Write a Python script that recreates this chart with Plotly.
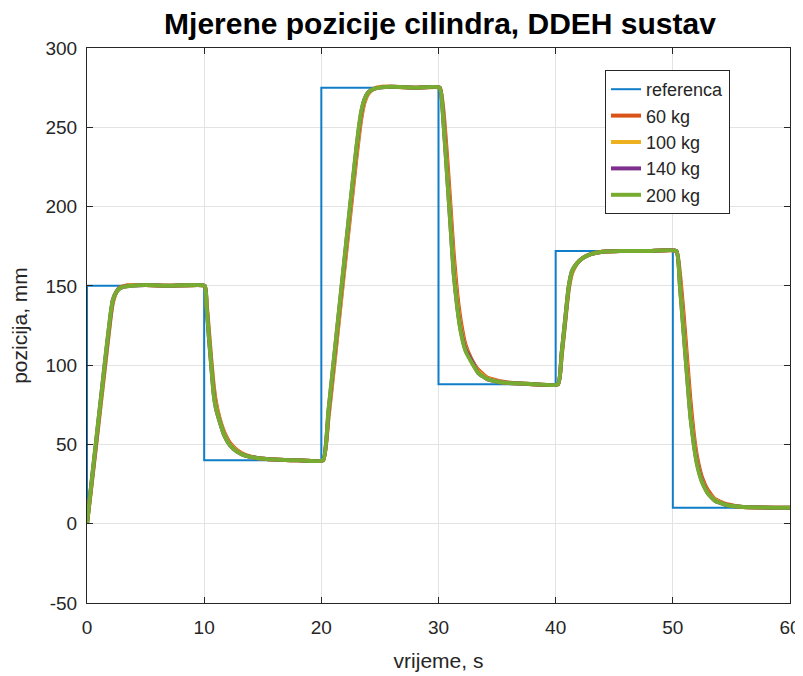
import plotly.graph_objects as go

# Reference (setpoint) steps
ref_t = [0, 0, 10, 10, 20, 20, 30, 30, 40, 40, 50, 50, 60]
ref_v = [0, 150, 150, 40, 40, 275, 275, 88, 88, 172, 172, 10, 10]

# Common time samples for measured positions (s)
t = [0, 0.4, 0.8, 1.2, 1.6, 2.0, 2.2, 2.5, 2.8, 3.2, 3.8, 5, 7, 10.05,
     10.2, 10.4, 10.6, 10.8, 11.0, 11.3, 11.7, 12.2, 12.8, 13.5, 14.5, 16, 18, 20.15,
     20.6, 21.2, 21.8, 22.4, 23.0, 23.4, 23.7, 24.0, 24.4, 25, 26, 28, 30.1,
     30.4, 30.7, 31.0, 31.3, 31.6, 31.9, 32.3, 32.8, 33.4, 34.2, 35.5, 37, 40.2,
     40.5, 40.8, 41.1, 41.4, 41.8, 42.3, 43, 44, 45.5, 48, 50.3,
     50.6, 50.9, 51.2, 51.5, 51.8, 52.1, 52.5, 53, 53.6, 54.5, 56, 60]

kg60 = [0, 25, 51, 77, 103, 129, 139, 146, 149, 150, 150.5, 150.5, 150, 150,
        140, 122, 104, 88, 77, 67, 58, 51, 46.5, 43.5, 41.5, 40.5, 40, 40,
        66, 107, 149, 190, 231, 255, 266, 271, 274, 275.5, 275.5, 275, 275,
        262, 235, 203, 170, 145, 128, 113, 104, 97, 92, 89.5, 88.5, 88,
        105, 126, 147, 158, 164, 167.5, 170, 171.5, 172, 172, 172,
        158, 134, 106, 78, 56, 41, 29, 21, 15.5, 12.5, 10.5, 10]

kg100 = [0, 26, 52, 78, 105, 130, 140, 146, 148.5, 149.5, 150.5, 150.5, 150, 150,
         139, 120, 102, 85, 75, 66, 57, 50, 46, 43, 41.5, 40.5, 40, 40,
         68, 109, 151, 193, 234, 257, 267, 271.5, 274, 275.5, 275.5, 275, 275,
         258, 228, 196, 163, 140, 124, 111, 103, 96, 91.5, 89, 88.5, 88,
         106, 127, 148, 158.5, 164, 167.5, 170, 171.5, 172, 172, 172,
         154, 127, 99, 71, 52, 38, 27, 19.5, 15, 12, 10.5, 10]

kg140 = [0, 27, 53, 80, 106, 131, 141, 146, 148.5, 149.5, 150, 150.5, 150, 150,
         138, 118, 100, 83, 73, 65, 56, 49.5, 45.5, 43, 41.5, 40.5, 40, 40,
         70, 112, 154, 196, 237, 259, 268, 272, 274, 275, 275.5, 275, 275,
         256, 224, 191, 158, 137, 122, 110, 103, 95, 91, 89, 88.5, 88,
         107, 128, 149, 159.5, 164, 167.5, 170, 171.5, 172, 172, 172,
         151, 123, 95, 68, 50, 37, 26.5, 19, 14.5, 12, 10.5, 10]

kg200 = [0, 27, 54, 80, 107, 132, 141, 146, 148.5, 149.5, 150, 150.5, 150, 150,
         138, 118, 100, 82, 73, 65, 56, 49.5, 45.5, 43, 41.5, 40.5, 40, 40,
         71, 113, 155, 197, 238, 260, 268, 272, 274, 275, 275.5, 275, 275,
         255, 223, 190, 157, 136, 121, 109, 102, 95, 91, 89, 88.5, 88,
         107, 128, 149, 159.5, 164, 167.5, 170, 171.5, 172, 172, 172,
         150, 122, 94, 67, 49, 36, 26, 19, 14.5, 12, 10.5, 10]

x_ticks = [0, 10, 20, 30, 40, 50, 60]
y_ticks = [-50, 0, 50, 100, 150, 200, 250, 300]
y_tick_labels = ["-50", "0", "50", "100", "150", "200", "250", "300"]

series = [
    ("60 kg", kg60, "#D95319"),
    ("100 kg", kg100, "#EDB120"),
    ("140 kg", kg140, "#7E2F8E"),
    ("200 kg", kg200, "#77AC30"),
]

FONT = "Liberation Sans, Arial, Helvetica, sans-serif"
TXT = "#262626"

# page body adds an 8 px offset; figure is sized to fill the rest of the window
W, H = 795, 668
L, R, T, B = 79, 13, 40, 73

fig = go.Figure()
fig.add_trace(go.Scatter(x=ref_t, y=ref_v, mode="lines", name="referenca",
                         line=dict(color="#0F7DC8", width=2), legendgroup="r"))
for name, vals, col in series:
    fig.add_trace(go.Scatter(x=t, y=vals, mode="lines", name=name,
                             line=dict(color=col, width=4, shape="spline", smoothing=0.4),
                             legendgroup=name))

axis_common = dict(
    showline=True, linecolor=TXT, linewidth=1, mirror="ticks",
    ticks="inside", ticklen=6, tickcolor=TXT,
    showgrid=True, gridcolor="#E3E3E3", gridwidth=1, zeroline=False,
    tickfont=dict(family=FONT, size=19, color=TXT), automargin=False,
)

fig.update_xaxes(range=[0, 60], tickvals=x_ticks, ticklabelstandoff=7,
                 title=dict(text="vrijeme, s", font=dict(family=FONT, size=21, color=TXT), standoff=16),
                 **axis_common)
fig.update_yaxes(range=[-50, 300], tickvals=y_ticks, ticktext=y_tick_labels, ticklabelstandoff=5,
                 title=dict(text="pozicija, mm", font=dict(family=FONT, size=21, color=TXT), standoff=12),
                 **axis_common)

pw, ph = W - L - R, H - T - B
fig.update_layout(
    width=W, height=H,
    margin=dict(l=L, r=R, t=T, b=B, pad=0),
    paper_bgcolor="white", plot_bgcolor="white",
    title=dict(text="<b>Mjerene pozicije cilindra, DDEH sustav</b>",
               font=dict(family=FONT, size=30, color="black"),
               x=432 / W, xanchor="center", xref="container",
               y=1 - 15 / H, yanchor="middle", yref="container", automargin=False),
    legend=dict(x=(597 - L) / pw, y=(T + ph - 62) / ph, xanchor="left", yanchor="top",
                bgcolor="white", bordercolor=TXT, borderwidth=1,
                font=dict(family=FONT, size=18, color=TXT),
                tracegroupgap=2, traceorder="normal"),
    showlegend=True,
)

fig.write_html("out.html")
